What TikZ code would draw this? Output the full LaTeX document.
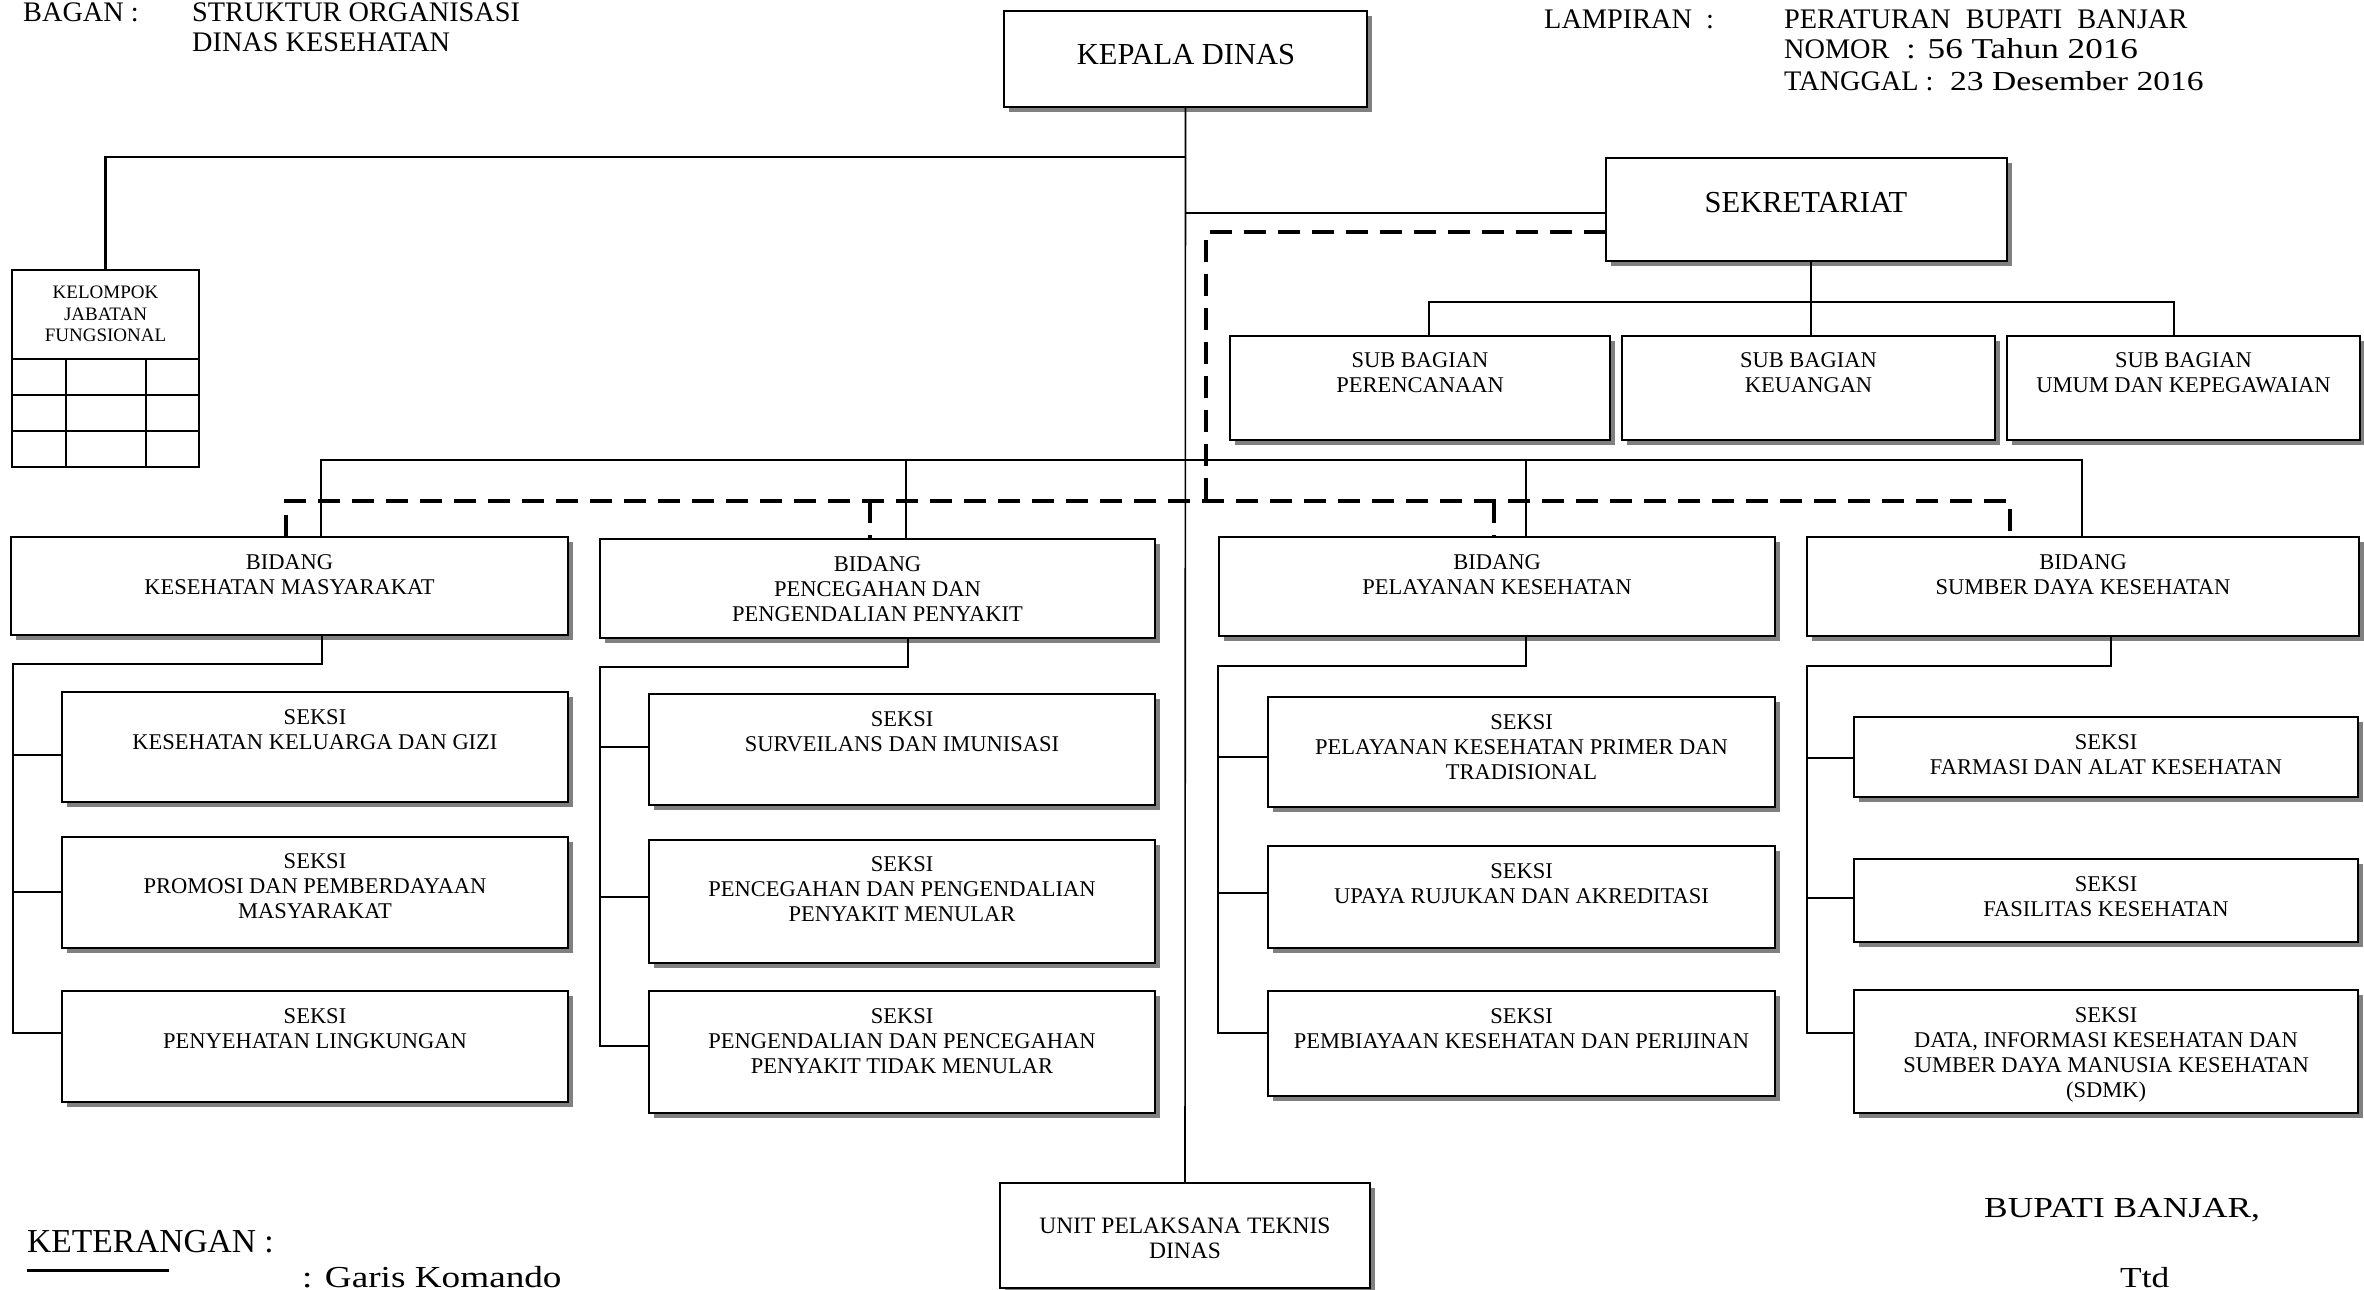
\documentclass[tikz,border=0pt]{standalone}
\usepackage{fontspec}
\setmainfont{Liberation Serif}
\newfontfamily\widefont[FakeStretch=1.22]{Liberation Serif}
\usetikzlibrary{shadows,calc}
\definecolor{shade}{gray}{0.5}
\tikzset{
  box/.style={draw=black, line width=2.6pt, fill=white, inner sep=0pt, outer sep=0pt,
    drop shadow={shadow xshift=5pt, shadow yshift=-5pt, fill=shade, opacity=1}},
  plainbox/.style={draw=black, line width=2.4pt, fill=white, inner sep=0pt, outer sep=0pt},
  txt/.style={inner sep=0pt, align=center, font=\fontsize{22.5}{25}\selectfont},
  bigtxt/.style={inner sep=0pt, align=center, font=\fontsize{30.5}{34}\selectfont},
  kjftxt/.style={inner sep=0pt, align=center, font=\fontsize{19}{21.5}\selectfont},
  upttxt/.style={inner sep=0pt, align=center, font=\fontsize{23.5}{25}\selectfont},
  hdr/.style={inner sep=0pt, anchor=base west, font=\fontsize{28.3}{30}\selectfont},
  hdrw/.style={inner sep=0pt, anchor=base west, font=\widefont\fontsize{27.5}{30}\selectfont},
  foot/.style={inner sep=0pt, anchor=base west, font=\fontsize{33.5}{36}\selectfont},
  footw/.style={inner sep=0pt, anchor=base west, font=\widefont\fontsize{29}{34}\selectfont},
  conn/.style={draw=black, line width=2.2pt},
  thinconn/.style={draw=black, line width=1.6pt},
  dashconn/.style={draw=black, line width=4.5pt, dash pattern=on 22pt off 12pt},
}
\newcommand\bx[6]{\node[#1, minimum width={#5-#3}, minimum height={#6-#4}, anchor=north west] (#2) at (#3,#4) {};}
\newcommand\bt[3]{\node[txt, anchor=north] (#1t) at ($(#1.north)+(0,#2)$) {#3};}
\newcommand\seksicol[8]{%
  \coordinate (c#8top) at (#2,#3);
  \coordinate (c#8cor) at (#4,#3);
  \coordinate (c#8a) at (#4,#5);
  \coordinate (c#8b) at (#4,#6);
  \coordinate (c#8c) at (#4,#7);
  \draw[conn] (c#8top |- #1.south) -- (c#8top) -- (c#8cor) -- (c#8c) -- (c#8c -| s#83.west);
  \draw[conn] (c#8a) -- (c#8a -| s#81.west);
  \draw[conn] (c#8b) -- (c#8b -| s#82.west);
}
\begin{document}
\begin{tikzpicture}[x=1pt,y=-1pt]
\fill[white] (0,0) rectangle (2364,1290);
\useasboundingbox (0,0) rectangle (2364,1290);

% header
\node[hdr] (bagan) at (23,22) {BAGAN :};
\node[hdr] (judul1) at (192,22) {STRUKTUR ORGANISASI};
\node[hdr] (judul2) at (192,52) {DINAS KESEHATAN};
\node[hdr] (lamp) at (1544,29) {LAMPIRAN};
\node[hdr] (lampc) at (1706,29) {:};
\node[hdr] (perbup) at (1784,29) {PERATURAN\hspace{15pt}BUPATI\hspace{15pt}BANJAR};
\node[hdr] (nomor) at (1784,59) {NOMOR};
\node[hdrw, font=\widefont\fontsize{28.8}{30}\selectfont] (nomorv) at (1906,59) {: 56 Tahun 2016};
\node[hdr] (tgl) at (1784,90) {TANGGAL :};
\node[hdrw] (tglv) at (1950,90) {23 Desember 2016};

% top boxes
\bx{box}{kd}{1004}{11}{1367}{107}
\node[bigtxt] (kdt) at (1186,55) {KEPALA DINAS};
\bx{box}{sek}{1606}{158}{2007}{261}
\node[bigtxt] (sekt) at (1806,203) {SEKRETARIAT};

% sub bagian
\bx{box}{sb1}{1230}{336}{1610}{440}
\bx{box}{sb2}{1622}{336}{1995}{440}
\bx{box}{sb3}{2007}{336}{2360}{440}
\bt{sb1}{16}{SUB BAGIAN\\PERENCANAAN}
\bt{sb2}{16}{SUB BAGIAN\\KEUANGAN}
\bt{sb3}{16}{SUB BAGIAN\\UMUM DAN KEPEGAWAIAN}

% kelompok jabatan fungsional
\bx{plainbox}{kjf}{12}{270}{199}{467}
\node[kjftxt, anchor=north] (kjft) at (105.5,286) {KELOMPOK\\JABATAN\\FUNGSIONAL};
\coordinate (kh1) at (12,359);
\coordinate (kh2) at (12,395);
\coordinate (kh3) at (12,431);
\coordinate (kv1) at (66,359);
\coordinate (kv2) at (146,359);
\draw[line width=2.4pt] (kh1) -- (kh1 -| kjf.east);
\draw[line width=2.4pt] (kh2) -- (kh2 -| kjf.east);
\draw[line width=2.4pt] (kh3) -- (kh3 -| kjf.east);
\draw[line width=2.4pt] (kv1) -- (kv1 |- kjf.south);
\draw[line width=2.4pt] (kv2) -- (kv2 |- kjf.south);

% bidang
\bx{box}{bkm}{11}{537}{568}{635}
\bx{box}{bpp}{600}{539}{1155}{638}
\bx{box}{bpk}{1219}{537}{1775}{636}
\bx{box}{bsd}{1807}{537}{2359}{636}
\bt{bkm}{17}{BIDANG\\KESEHATAN MASYARAKAT}
\bt{bpp}{17}{BIDANG\\PENCEGAHAN DAN\\PENGENDALIAN PENYAKIT}
\bt{bpk}{17}{BIDANG\\PELAYANAN KESEHATAN}
\bt{bsd}{17}{BIDANG\\SUMBER DAYA KESEHATAN}

% seksi column 1
\bx{box}{s11}{62}{692}{568}{802}
\bx{box}{s12}{62}{837}{568}{948}
\bx{box}{s13}{62}{991}{568}{1102}
\bt{s11}{17}{SEKSI\\KESEHATAN KELUARGA DAN GIZI}
\bt{s12}{16}{SEKSI\\PROMOSI DAN PEMBERDAYAAN\\MASYARAKAT}
\bt{s13}{17}{SEKSI\\PENYEHATAN LINGKUNGAN}
% column 2
\bx{box}{s21}{649}{694}{1155}{805}
\bx{box}{s22}{649}{840}{1155}{963}
\bx{box}{s23}{649}{991}{1155}{1113}
\bt{s21}{17}{SEKSI\\SURVEILANS DAN IMUNISASI}
\bt{s22}{16}{SEKSI\\PENCEGAHAN DAN PENGENDALIAN\\PENYAKIT MENULAR}
\bt{s23}{17}{SEKSI\\PENGENDALIAN DAN PENCEGAHAN\\PENYAKIT TIDAK MENULAR}
% column 3
\bx{box}{s31}{1268}{697}{1775}{807}
\bx{box}{s32}{1268}{846}{1775}{948}
\bx{box}{s33}{1268}{991}{1775}{1096}
\bt{s31}{17}{SEKSI\\PELAYANAN KESEHATAN PRIMER DAN\\TRADISIONAL}
\bt{s32}{17}{SEKSI\\UPAYA RUJUKAN DAN AKREDITASI}
\bt{s33}{17}{SEKSI\\PEMBIAYAAN KESEHATAN DAN PERIJINAN}
% column 4
\bx{box}{s41}{1854}{717}{2358}{797}
\bx{box}{s42}{1854}{859}{2358}{942}
\bx{box}{s43}{1854}{990}{2358}{1113}
\bt{s41}{17}{SEKSI\\FARMASI DAN ALAT KESEHATAN}
\bt{s42}{17}{SEKSI\\FASILITAS KESEHATAN}
\bt{s43}{17}{SEKSI\\DATA, INFORMASI KESEHATAN DAN\\SUMBER DAYA MANUSIA KESEHATAN\\(SDMK)}

% UPT
\bx{box}{upt}{1000}{1183}{1370}{1288}
\node[upttxt, anchor=north] (uptt) at ($(upt.north)+(0,35)$) {UNIT PELAKSANA TEKNIS\\DINAS};

% command lines
\draw[thinconn] (kd.south) -- (upt.north);
\coordinate (jk) at (1186,157);
\draw[conn] (jk) -| (kjf.north);
\coordinate (js) at (1186,213);
\draw[thinconn] (js) -- (js -| sek.west);
\coordinate (sbm) at (1811,302);
\coordinate (sbl) at (1429,302);
\coordinate (sbr) at (2174,302);
\draw[thinconn] (sbm |- sek.south) -- (sbm |- sb2.north);
\draw[thinconn] (sbl |- sb1.north) -- (sbl) -- (sbr) -- (sbr |- sb3.north);
\coordinate (bb1) at (321,460);
\coordinate (bb2) at (906,460);
\coordinate (bb3) at (1526,460);
\coordinate (bb4) at (2082,460);
\draw[conn] (bb1 |- bkm.north) -- (bb1) -- (bb4) -- (bb4 |- bsd.north);
\draw[thinconn] (bb2) -- (bb2 |- bpp.north);
\draw[thinconn] (bb3) -- (bb3 |- bpk.north);

% coordination (dashed)
\coordinate (d0) at (1206,232);
\coordinate (d1) at (1206,501);
\coordinate (dl) at (286,501);
\coordinate (dm1) at (870,501);
\coordinate (dm2) at (1494,501);
\coordinate (dr) at (2010,501);
\draw[dashconn] (d0 -| sek.west) -- (d0) -- (d1);
\draw[dashconn] (dl |- bkm.north) -- (dl) -- (dr) -- (dr |- bsd.north);
\draw[dashconn] (dm1) -- (dm1 |- bpp.north);
\draw[dashconn] (dm2) -- (dm2 |- bpk.north);

% seksi connectors
\seksicol{bkm}{322}{664}{13}{755}{892}{1033}{1}
\seksicol{bpp}{908}{667}{600}{747}{897}{1046}{2}
\seksicol{bpk}{1526}{666}{1218}{757}{893}{1033}{3}
\seksicol{bsd}{2111}{666}{1807}{758}{898}{1033}{4}

% footer
\node[foot] (ket) at (27,1252) {KETERANGAN :};
\coordinate (lg1) at (27,1270);
\coordinate (lg2) at (169,1270);
\draw[line width=3pt] (lg1) -- (lg2);
\node[footw, font=\widefont\fontsize{30.5}{34}\selectfont] (garis) at (302,1287) {: Garis Komando};
\node[footw] (bupati) at (1984,1217) {BUPATI BANJAR,};
\node[footw] (ttd) at (2120,1287) {Ttd};
\end{tikzpicture}
\end{document}
